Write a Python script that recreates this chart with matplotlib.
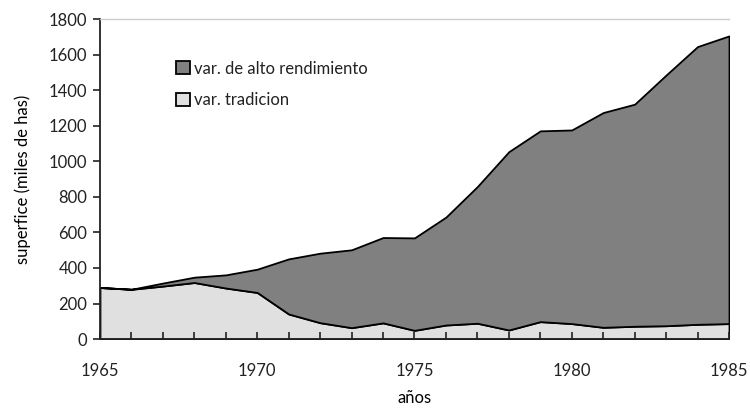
import matplotlib
matplotlib.use("Agg")
import matplotlib.pyplot as plt
from matplotlib.ticker import MultipleLocator

plt.rcParams['font.family'] = ['Lato', 'DejaVu Sans']
plt.rcParams['text.color'] = '#222222'

# superficie sembrada (miles de has)
years = list(range(1965, 1986))
tradicional = [290, 280, 298, 318, 287, 262, 141, 92, 64, 91, 49,
               79, 89, 51, 98, 87, 66, 72, 75, 83, 87]
alto_rendimiento = [0, 0, 17, 30, 74, 131, 310, 391, 438, 480, 520,
                    607, 769, 1003, 1073, 1089, 1208, 1249, 1410, 1562, 1618]
labels = ['var. tradicion', 'var. de alto rendimiento']
colors = ['#e0e0e0', '#808080']

fig = plt.figure(figsize=(7.5, 4.09), dpi=100)
ax = fig.add_axes([0.1333, 0.171, 0.8387, 0.7825])

polys = ax.stackplot(years, tradicional, alto_rendimiento, colors=colors,
                     edgecolor='black', linewidth=1.3, labels=labels)

ax.set_xlim(1965, 1985)
ax.set_ylim(0, 1800)
ax.xaxis.set_major_locator(MultipleLocator(5))
ax.xaxis.set_minor_locator(MultipleLocator(1))
ax.yaxis.set_major_locator(MultipleLocator(200))

ax.tick_params(axis='x', which='both', direction='in', length=5, width=1.2,
               pad=17, labelsize=12, color='#222222', labelcolor='#222222')
ax.tick_params(axis='y', direction='out', length=5, width=1.2,
               pad=4, labelsize=12, color='#222222', labelcolor='#222222')

ax.spines['right'].set_visible(False)
ax.spines['top'].set_color('#cccccc')
ax.spines['top'].set_linewidth(1)
ax.spines['left'].set_linewidth(1.3)
ax.spines['bottom'].set_linewidth(1.3)
ax.spines['left'].set_color('#222222')
ax.spines['bottom'].set_color('#222222')

ax.set_xlabel('años', fontsize=12, labelpad=8)
ax.set_ylabel('superfice (miles de has)', fontsize=12, labelpad=13)

handles = [polys[1], polys[0]]
ax.legend(handles, [labels[1], labels[0]], loc='upper left',
          bbox_to_anchor=(0.121, 0.87), frameon=False, fontsize=12,
          handlelength=0.85, handleheight=0.85, handletextpad=0.25,
          labelspacing=0.95, borderpad=0, borderaxespad=0)

fig.savefig('out.png', dpi=100)
